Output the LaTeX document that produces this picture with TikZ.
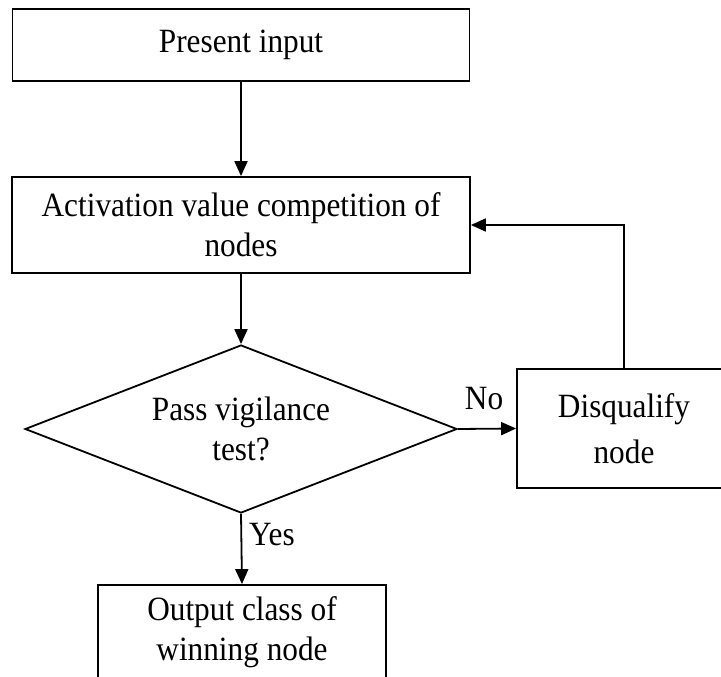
\documentclass[tikz,border=0pt]{standalone}
\usepackage{fontspec}
\setmainfont{Liberation Serif}[FakeStretch=0.92]
\usetikzlibrary{shapes.geometric,arrows.meta}
\begin{document}
\begin{tikzpicture}[x=1pt,y=-1pt,
  every node/.style={font=\fontsize{34}{40}\selectfont},
  boxnode/.style={draw,line width=1.8pt,rectangle,inner sep=0pt,align=center},
  decnode/.style={draw,line width=1.8pt,diamond,inner sep=0pt,align=center,aspect=2.57},
  arr/.style={line width=1.8pt,-{Triangle[length=15pt,width=13pt]}},
  lbl/.style={inner sep=0pt}]
\useasboundingbox (0,0) rectangle (721,677);
\node[boxnode,minimum width=457pt,minimum height=72pt] (in) at (241,45) {Present input};
\node[boxnode,minimum width=458pt,minimum height=96pt] (act) at (241,225) {Activation value competition of\\nodes};
\node[decnode,minimum width=432pt,minimum height=168pt] (dia) at (241,429) {Pass vigilance\\test?};
\node[boxnode,minimum width=214pt,minimum height=119pt] (dq) at (624,428.5) {Disqualify\\[6pt]node};
\node[boxnode,minimum width=288pt,minimum height=94pt] (out) at (242,632) {Output class of\\winning node};
\draw[arr] (in.south) -- (act.north);
\draw[arr] (act.south) -- (dia.north);
\draw[arr] (dia.east) -- (dq.west) node[lbl,pos=0.45,above=18pt] (no) {No};
\draw[arr] (dq.north) |- (act.east);
\draw[arr] (dia.south) -- (out.north) node[lbl,pos=0.3,right=7pt] (yes) {Yes};
\end{tikzpicture}
\end{document}
